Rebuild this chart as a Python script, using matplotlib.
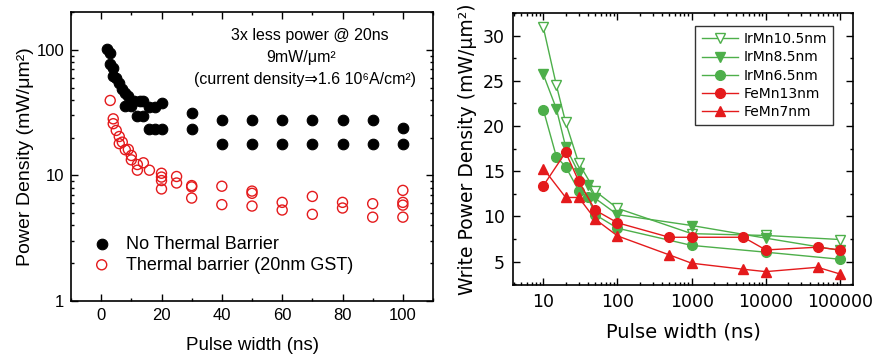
import numpy as np
import matplotlib
matplotlib.use("Agg")
import matplotlib.pyplot as plt
from matplotlib.ticker import MultipleLocator, LogLocator, NullFormatter, FixedLocator

# ---- left panel data: power density vs pulse width ----
pw_nb = [2, 3, 3, 4, 4, 5, 6, 7, 8, 9, 8, 10, 11, 13, 14, 16, 18, 20,
         12, 14, 16, 18, 20, 30, 30,
         40, 50, 60, 70, 80, 90, 100,
         40, 50, 60, 70, 80, 90, 100]
pd_nb = [102, 94, 77, 71, 62, 60, 54, 49, 45, 43, 36, 36, 39, 39, 39, 35, 35, 38,
         29.5, 29.5, 23.2, 23.2, 23.2, 31.3, 23.2,
         27.4, 27.4, 27.4, 27.4, 27.4, 27.4, 23.8,
         17.7, 17.7, 17.7, 17.7, 17.7, 17.7, 17.7]

pw_tb = [3, 4, 4, 5, 6, 6, 7, 8, 9, 10, 10, 12, 12, 14, 16,
         20, 20, 20, 20, 25, 25, 30, 30, 30, 40, 40, 50, 50, 50,
         60, 60, 70, 70, 80, 80, 90, 90, 100, 100, 100, 100]
pd_tb = [39.5, 28.2, 25.8, 22.8, 20.4, 17.9, 18.4, 16.0, 16.1, 14.4, 13.3, 12.2, 11.0, 12.6, 11.0,
         10.4, 9.7, 9.1, 7.8, 9.8, 8.7, 8.3, 8.1, 6.6, 8.2, 5.85, 7.5, 7.2, 5.7,
         6.1, 5.3, 6.8, 4.9, 6.1, 5.5, 5.95, 4.65, 7.6, 6.1, 5.8, 4.65]

# ---- right panel data: write power density vs pulse width ----
x_irmn105 = [10, 15, 20, 30, 50, 100, 1000, 10000, 100000]
y_irmn105 = [30.9, 24.5, 20.4, 15.9, 12.8, 10.9, 8.1, 7.9, 7.45]

x_irmn85 = [10, 15, 20, 30, 40, 50, 100, 1000, 10000, 100000]
y_irmn85 = [25.7, 21.9, 17.7, 14.8, 13.5, 12.0, 10.2, 9.0, 7.6, 6.25]

x_irmn65 = [10, 15, 20, 30, 40, 50, 100, 1000, 10000, 100000]
y_irmn65 = [21.8, 16.6, 15.5, 12.85, 12.1, 10.2, 8.7, 6.8, 6.05, 5.27]

x_femn13 = [10, 20, 30, 50, 100, 500, 1000, 5000, 10000, 50000, 100000]
y_femn13 = [13.4, 17.1, 13.9, 10.7, 9.3, 7.7, 7.7, 7.7, 6.3, 6.6, 6.3]

x_femn7 = [10, 20, 30, 50, 100, 500, 1000, 5000, 10000, 50000, 100000]
y_femn7 = [15.3, 12.1, 12.1, 9.7, 7.85, 5.75, 4.83, 4.16, 3.9, 4.38, 3.64]

green = '#4DAF4A'
red = '#E41A1C'
lfont = ['Liberation Sans', 'DejaVu Sans']
rfont = ['DejaVu Sans']

fig = plt.figure(figsize=(8.83, 3.61), dpi=100)

# ================= left panel =================
ax1 = fig.add_axes([0.0804, 0.1662, 0.41, 0.8006])
ax1.scatter(pw_nb, pd_nb, s=58, c='black', edgecolors='black', linewidths=0.8,
            label='No Thermal Barrier', zorder=3)
ax1.scatter(pw_tb, pd_tb, s=52, facecolors='none', edgecolors=red, linewidths=1.0,
            label='Thermal barrier (20nm GST)', zorder=3)
ax1.set_yscale('log')
ax1.set_xlim(-10, 110)
ax1.set_ylim(1, 200)
ax1.xaxis.set_major_locator(MultipleLocator(20))
ax1.xaxis.set_minor_locator(MultipleLocator(10))
ax1.yaxis.set_major_locator(FixedLocator([1, 10, 100]))
ax1.set_yticklabels(['1', '10', '100'])
ax1.yaxis.set_minor_locator(LogLocator(base=10, subs=np.arange(2, 10)))
ax1.yaxis.set_minor_formatter(NullFormatter())
ax1.tick_params(which='both', direction='in', top=True, right=True, width=1.0)
ax1.tick_params(which='major', length=5, labelsize=12, pad=5)
ax1.tick_params(which='minor', length=2.5)
for lbl in ax1.get_xticklabels() + ax1.get_yticklabels():
    lbl.set_family(lfont)
for sp in ax1.spines.values():
    sp.set_linewidth(1.2)
ax1.set_xlabel('Pulse width (ns)', family=lfont, fontsize=13.5, labelpad=10)
ax1.set_ylabel('Power Density (mW/μm²)', family=lfont, fontsize=14, labelpad=2)

ax1.text(0.66, 0.917, '3x less power @ 20ns', transform=ax1.transAxes,
         ha='center', va='center', family=lfont, fontsize=11.5)
ax1.text(0.635, 0.844, '9mW/μm²', transform=ax1.transAxes,
         ha='center', va='center', family=lfont, fontsize=11.5)
ax1.text(0.645, 0.768, '(current density⇒1.6 10⁶A/cm²)', transform=ax1.transAxes,
         ha='center', va='center', family=lfont, fontsize=11.5)

leg1 = ax1.legend(loc='lower left', bbox_to_anchor=(0.015, 0.07), frameon=False,
                  prop={'family': lfont, 'size': 13}, handletextpad=0.35,
                  labelspacing=0.2, borderaxespad=0)

# ================= right panel =================
ax2 = fig.add_axes([0.581, 0.2105, 0.385, 0.7535])
ms = 7
ax2.plot(x_irmn105, y_irmn105, color=green, lw=1.0, marker='v', ms=ms,
         mfc='white', mec=green, mew=1.0, label='IrMn10.5nm')
ax2.plot(x_irmn85, y_irmn85, color=green, lw=1.0, marker='v', ms=ms,
         mfc=green, mec=green, label='IrMn8.5nm')
ax2.plot(x_irmn65, y_irmn65, color=green, lw=1.0, marker='o', ms=ms,
         mfc=green, mec=green, label='IrMn6.5nm')
ax2.plot(x_femn13, y_femn13, color=red, lw=1.0, marker='o', ms=ms,
         mfc=red, mec=red, label='FeMn13nm')
ax2.plot(x_femn7, y_femn7, color=red, lw=1.0, marker='^', ms=ms,
         mfc=red, mec=red, label='FeMn7nm')
ax2.set_xscale('log')
ax2.set_xlim(3.9, 1.5e5)
ax2.set_ylim(2.42, 32.5)
ax2.xaxis.set_major_locator(FixedLocator([10, 100, 1000, 10000, 100000]))
ax2.set_xticklabels(['10', '100', '1000', '10000', '100000'])
ax2.xaxis.set_minor_locator(LogLocator(base=10, subs=np.arange(2, 10), numticks=20))
ax2.xaxis.set_minor_formatter(NullFormatter())
ax2.yaxis.set_major_locator(MultipleLocator(5))
ax2.yaxis.set_minor_locator(MultipleLocator(2.5))
ax2.tick_params(which='both', direction='in', top=True, right=True, width=1.0)
ax2.tick_params(which='major', length=5, labelsize=12.5, pad=6)
ax2.tick_params(which='minor', length=2.5)
for lbl in ax2.get_xticklabels() + ax2.get_yticklabels():
    lbl.set_family(rfont)
for sp in ax2.spines.values():
    sp.set_linewidth(1.2)
ax2.set_xlabel('Pulse width (ns)', family=rfont, fontsize=14, labelpad=8)
ax2.set_ylabel('Write Power Density (mW/μm²)', family=rfont, fontsize=13.5, labelpad=4)

leg2 = ax2.legend(loc='upper right', bbox_to_anchor=(0.941, 0.952), frameon=True,
                  fancybox=False, edgecolor='#333333', framealpha=1,
                  prop={'family': rfont, 'size': 10}, handlelength=2.6,
                  handletextpad=0.4, labelspacing=0.3, borderaxespad=0,
                  borderpad=0.45)
leg2.get_frame().set_linewidth(1.0)

fig.savefig('out.png', dpi=100)
